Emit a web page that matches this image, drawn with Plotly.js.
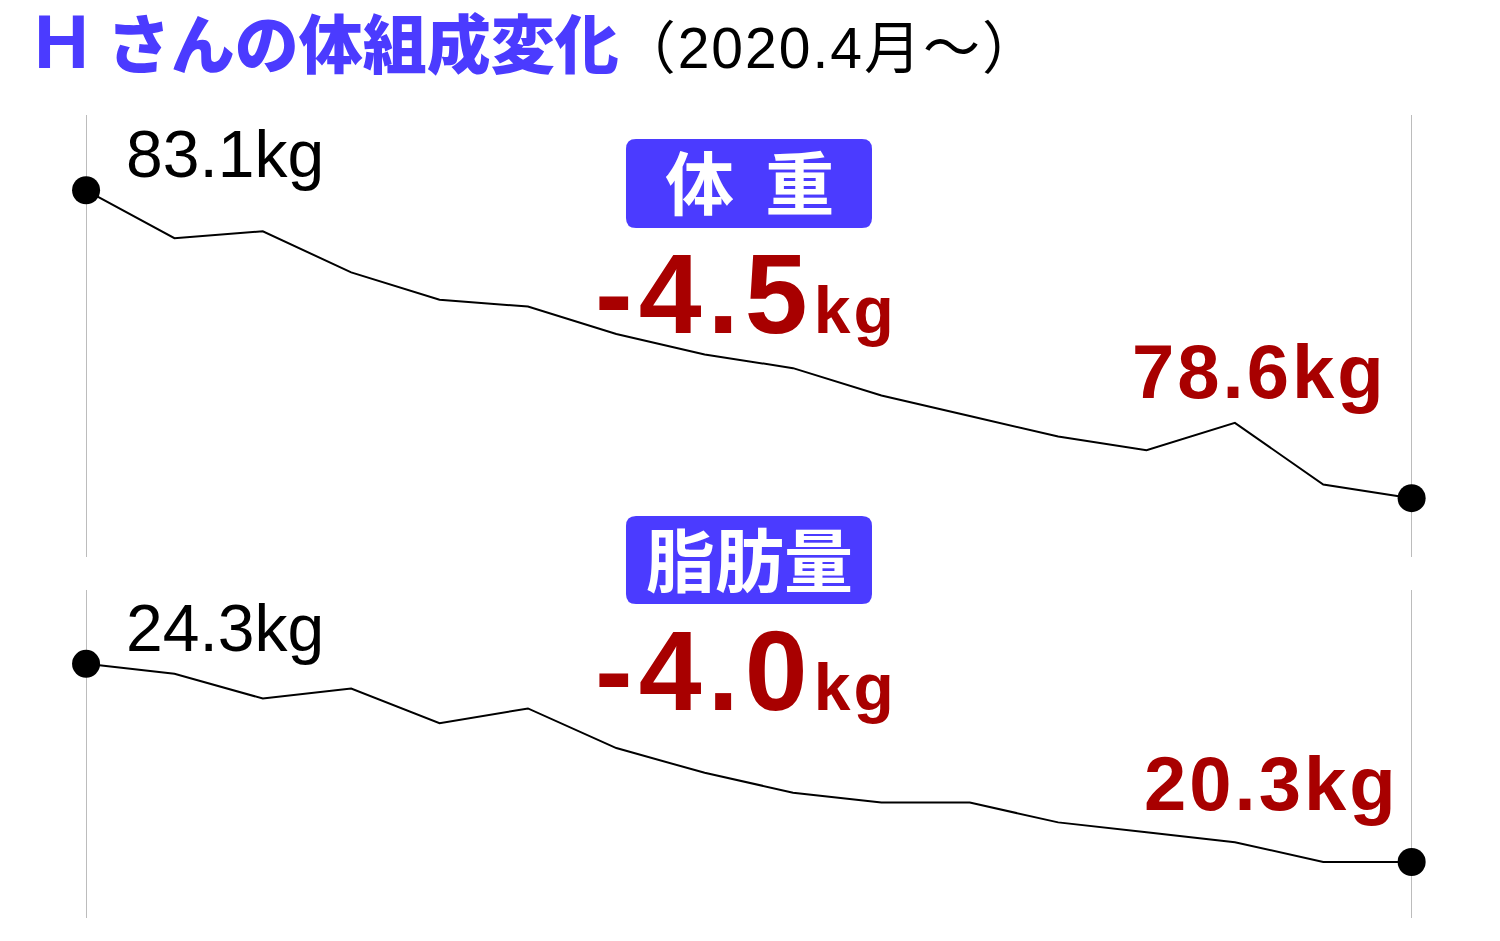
<!DOCTYPE html>
<html>
<head>
<meta charset="utf-8">
<script src="https://cdn.plot.ly/plotly-3.0.1.min.js"></script>
<style>html,body{margin:0;padding:0;background:#fff}</style>
</head>
<body>
<div id="chart" style="width:1500px;height:941px"></div>
<script>
// monthly readings since April 2020
var months = [0, 1, 2, 3, 4, 5, 6, 7, 8, 9, 10, 11, 12, 13, 14, 15];
var weight = [83.1, 82.4, 82.5, 81.9, 81.5, 81.4, 81.0, 80.7, 80.5, 80.1, 79.8, 79.5, 79.3, 79.7, 78.8, 78.6];
var fat = [24.3, 24.1, 23.6, 23.8, 23.1, 23.4, 22.6, 22.1, 21.7, 21.5, 21.5, 21.1, 20.9, 20.7, 20.3, 20.3];
var panelNames = ["体\u00a0\u00a0重", "脂肪量"];

var W = 1500, H = 941;
var BLUE = "#4B3BFF", RED = "#A80000";
var LAT = "Liberation Sans, Arial, sans-serif";
var JP = "Noto Sans CJK JP, sans-serif";

function px(x) { return x / W; }
function py(y) { return 1 - y / H; }

var last = months.length - 1;
function kg(v) { return v.toFixed(1) + "kg"; }

var traces = [
  {x: months, y: weight, xaxis: "x", yaxis: "y", mode: "lines",
   line: {color: "#000", width: 2}, hoverinfo: "skip"},
  {x: [months[0], months[last]], y: [weight[0], weight[last]], xaxis: "x", yaxis: "y",
   mode: "markers", marker: {color: "#000", size: 28}, hoverinfo: "skip"},
  {x: months, y: fat, xaxis: "x2", yaxis: "y2", mode: "lines",
   line: {color: "#000", width: 2}, hoverinfo: "skip"},
  {x: [months[0], months[last]], y: [fat[0], fat[last]], xaxis: "x2", yaxis: "y2",
   mode: "markers", marker: {color: "#000", size: 28}, hoverinfo: "skip"}
];

function xax(anchor) {
  return {range: [-0.974, 16.0], anchor: anchor, showgrid: true, tickvals: [0, 15],
    gridcolor: "#bcbcbc", gridwidth: 1, showticklabels: false, zeroline: false,
    showline: false, ticks: "", fixedrange: true};
}
function yax(domain, range) {
  return {domain: domain, range: range, showgrid: false, zeroline: false,
    showticklabels: false, showline: false, ticks: "", fixedrange: true};
}

// rounded label box in paper units
function roundBox(x0, y0, x1, y1, r) {
  var X = function (v) { return px(v).toFixed(5); };
  var Y = function (v) { return py(v).toFixed(5); };
  var d = "M" + X(x0 + r) + "," + Y(y0) +
    " L" + X(x1 - r) + "," + Y(y0) + " Q" + X(x1) + "," + Y(y0) + " " + X(x1) + "," + Y(y0 + r) +
    " L" + X(x1) + "," + Y(y1 - r) + " Q" + X(x1) + "," + Y(y1) + " " + X(x1 - r) + "," + Y(y1) +
    " L" + X(x0 + r) + "," + Y(y1) + " Q" + X(x0) + "," + Y(y1) + " " + X(x0) + "," + Y(y1 - r) +
    " L" + X(x0) + "," + Y(y0 + r) + " Q" + X(x0) + "," + Y(y0) + " " + X(x0 + r) + "," + Y(y0) + " Z";
  return {type: "path", xref: "paper", yref: "paper", path: d,
    fillcolor: BLUE, line: {width: 0}, layer: "below"};
}

// text placed by its baseline (Liberation metrics)
function label(text, x, base, size, color, bold, anchor) {
  return {xref: "paper", yref: "paper", x: px(x), y: py(base - 0.3465 * size),
    xanchor: anchor || "left", yanchor: "middle", showarrow: false, borderpad: 0,
    text: bold ? "<b>" + text + "</b>" : text,
    font: {family: LAT, size: size, color: color}};
}
function bigDiff(a, b, x, base) {
  var d = (b - a).toFixed(1);
  return label('<span style="letter-spacing:6px">' + d +
    '<span style="font-size:66px;letter-spacing:3px">kg</span></span>', x, base, 113, RED, true);
}
function boxText(text, cy) {
  return {xref: "paper", yref: "paper", x: px(749), y: py(cy), xanchor: "center",
    yanchor: "middle", showarrow: false, text: "<b>" + text + "</b>",
    font: {family: JP, size: 69, color: "#fff", weight: 900}};
}

var layout = {
  width: W, height: H,
  margin: {l: 0, r: 0, t: 0, b: 0},
  paper_bgcolor: "#fff", plot_bgcolor: "rgba(0,0,0,0)",
  showlegend: false,
  title: {
    text: '<span style="font-size:76px">H</span> さんの体組成変化' +
      '<span style="font-size:57px;font-weight:400;color:#000;letter-spacing:2px">（2020.4月〜）</span>',
    font: {family: "Liberation Sans, Noto Sans CJK JP, sans-serif", size: 64, color: BLUE, weight: 900},
    x: px(34), xref: "paper", xanchor: "left",
    y: py(46), yref: "container", yanchor: "middle"
  },
  xaxis: xax("y"),
  yaxis: yax([py(557), py(115)], [77.74, 84.20]),
  xaxis2: Object.assign(xax("y2"), {matches: "x"}),
  yaxis2: yax([py(918), py(590)], [19.17, 25.79]),
  shapes: [roundBox(626, 139, 872, 228, 10), roundBox(626, 516, 872, 604, 10)],
  annotations: [
    boxText(panelNames[0], 180),
    boxText(panelNames[1], 557),
    label(kg(weight[0]), 125, 177, 66, "#000", false),
    label(kg(fat[0]), 125, 651, 66, "#000", false),
    bigDiff(weight[0], weight[last], 594, 333),
    bigDiff(fat[0], fat[last], 594, 710),
    label('<span style="letter-spacing:3px">' + kg(weight[last]) + '</span>', 1388, 398, 76, RED, true, "right"),
    label('<span style="letter-spacing:3px">' + kg(fat[last]) + '</span>', 1400, 810, 76, RED, true, "right")
  ]
};

Plotly.newPlot("chart", traces, layout, {staticPlot: true, displayModeBar: false});
</script>
</body>
</html>
